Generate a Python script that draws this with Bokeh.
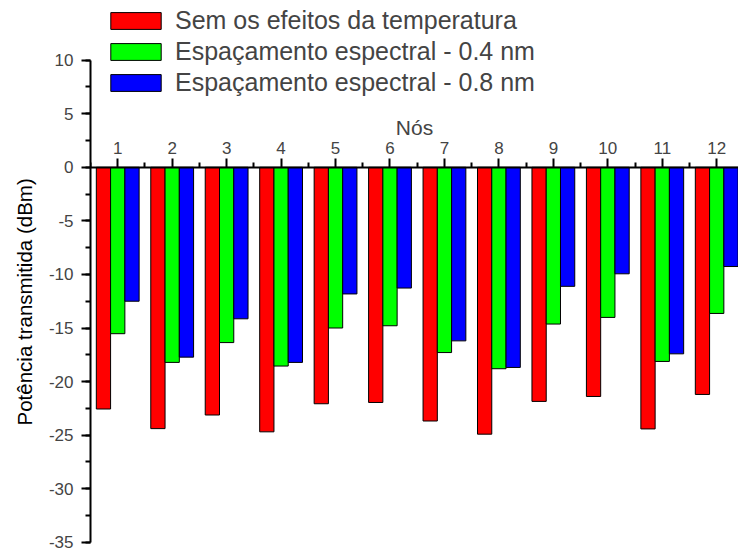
from bokeh.plotting import figure
from bokeh.models import (ColumnDataSource, Range1d, FixedTicker, SingleIntervalTicker,
                          Legend, LegendItem, Title)
from bokeh.transform import dodge
from bokeh.embed import file_html
from bokeh.resources import INLINE

nodes = [1, 2, 3, 4, 5, 6, 7, 8, 9, 10, 11, 12]
sem_efeitos = [-22.56, -24.39, -23.12, -24.69, -22.07, -21.95, -23.68, -24.91, -21.85, -21.39, -24.42, -21.20]
esp_04 = [-15.53, -18.21, -16.36, -18.55, -15.00, -14.79, -17.29, -18.80, -14.63, -14.01, -18.12, -13.64]
esp_08 = [-12.50, -17.72, -14.14, -18.21, -11.82, -11.27, -16.20, -18.68, -11.11, -9.94, -17.41, -9.26]
series_labels = ["Sem os efeitos da temperatura",
                 "Espaçamento espectral - 0.4 nm",
                 "Espaçamento espectral - 0.8 nm"]
y_ticks = [-35, -30, -25, -20, -15, -10, -5, 0, 5, 10]
x_minor = [0.5, 1.5, 2.5, 3.5, 4.5, 5.5, 6.5, 7.5, 8.5, 9.5, 10.5, 11.5, 12.5]
y_title = "Potência transmitida (dBm)"
x_title = "Nós"

FONT = "Liberation Sans"

src = ColumnDataSource(dict(node=nodes, s0=sem_efeitos, s1=esp_04, s2=esp_08))

p = figure(width=738, height=553,
           x_range=Range1d(0.5, 12.40), y_range=Range1d(-35.02, 15.57),
           output_backend="svg", toolbar_location=None,
           x_axis_location="above",
           min_border_left=90, min_border_right=0,
           min_border_top=0, min_border_bottom=11)
p.outline_line_color = None
p.xgrid.visible = False
p.ygrid.visible = False
p.background_fill_color = "white"

W = 0.262
colors = ["#FF0000", "#00FF00", "#0000FF"]
offsets = [-W, 0.0, W]
renderers = []
for key, col, off in zip(["s0", "s1", "s2"], colors, offsets):
    r = p.vbar(x=dodge("node", off, range=p.x_range), top=0, bottom=key, width=W,
               fill_color=col, line_color="black", line_width=1, source=src)
    renderers.append(r)

# x axis (at y = 0, labels above)
xa = p.xaxis[0]
xa.fixed_location = 0
xa.ticker = FixedTicker(ticks=nodes, minor_ticks=x_minor)
xa.axis_label = x_title
xa.axis_label_text_font = FONT
xa.axis_label_text_font_size = "21px"
xa.axis_label_text_font_style = "normal"
xa.axis_label_standoff = 1
xa.major_label_text_font = FONT
xa.major_label_text_font_size = "17px"
xa.major_label_standoff = 4
xa.major_tick_out = 9
xa.major_tick_in = 0
xa.minor_tick_out = 5
xa.minor_tick_in = 0
xa.axis_line_width = 2
xa.major_tick_line_width = 2
xa.minor_tick_line_width = 2

# y axis
ya = p.yaxis[0]
ya.bounds = (-35, 10)
ya.ticker = SingleIntervalTicker(interval=5, num_minor_ticks=2)
ya.major_label_overrides = {v: str(v) for v in y_ticks}
ya.major_label_text_font = FONT
ya.major_label_text_font_size = "17px"
ya.major_label_standoff = 8
ya.major_tick_out = 9
ya.major_tick_in = 0
ya.minor_tick_out = 5
ya.minor_tick_in = 0
ya.axis_line_width = 2
ya.major_tick_line_width = 2
ya.minor_tick_line_width = 2

# y axis title, placed to be centred on the axis span (-35 .. 10)
ytitle = Title(text=y_title, align="left", offset=117, standoff=19,
               text_font=FONT, text_font_size="20.5px", text_font_style="normal",
               text_color="black")
p.add_layout(ytitle, "left")

legend = Legend(items=[LegendItem(label=lab, renderers=[r])
                       for lab, r in zip(series_labels, renderers)],
                location=(14, 445))
legend.glyph_width = 63
legend.glyph_height = 21
legend.label_text_font = FONT
legend.label_text_font_size = "25px"
legend.label_standoff = 8
legend.spacing = 2
legend.padding = 0
legend.margin = 0
legend.border_line_color = None
legend.background_fill_alpha = 0
p.add_layout(legend)

open("out.html", "w").write(file_html(p, INLINE))
